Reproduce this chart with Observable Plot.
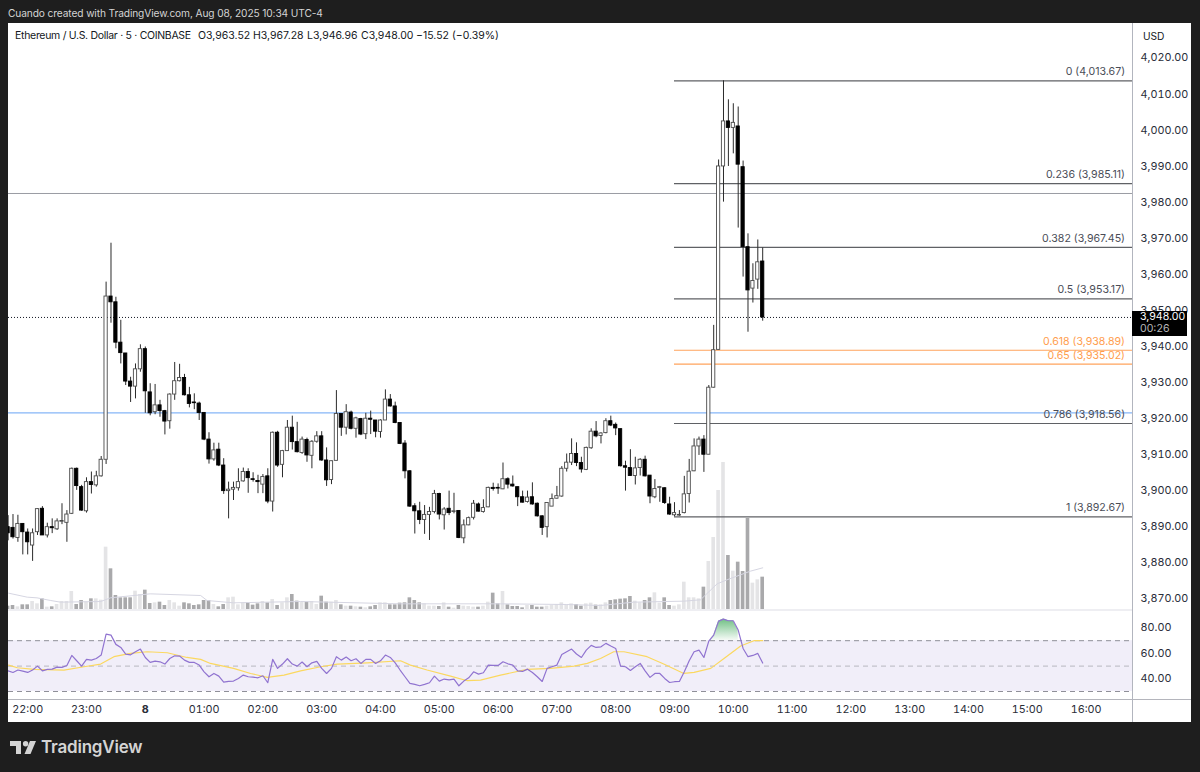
<!DOCTYPE html>
<html>
<head>
<meta charset="utf-8">
<script src="https://cdn.jsdelivr.net/npm/d3@7"></script>
<script src="https://cdn.jsdelivr.net/npm/@observablehq/plot@0.6"></script>
<style>
html,body{margin:0;padding:0;background:#1e1e1e;width:1200px;height:772px;overflow:hidden;font-family:Inter,"Noto Sans",sans-serif}
.abs{position:absolute}
.abs svg{display:block;max-width:none}
#stamp{left:8px;top:6px;font-size:10.2px;letter-spacing:-.12px;line-height:14px;color:#d4d4d4;white-space:nowrap}
#panel{left:8px;top:23px;width:1183px;height:699px;background:#fff}
#legend{left:15px;top:29px;font-size:10.5px;line-height:13px;color:#131722;white-space:nowrap}
#legend span{position:absolute;top:0}
#usd{left:1143px;top:30px;font-size:10.2px;line-height:13px;color:#131722}
#vsep{left:1132px;top:23px;width:1px;height:699px;background:#b2b5be}
#tag{left:1132px;width:55px;height:25px;background:#000;color:#fff;font-size:10.6px;line-height:11px}
#tag div{position:absolute;left:8px;white-space:nowrap}
#sep1{left:8px;top:609px;width:1124px;height:2px;background:#eeeef2}
#sep2{left:8px;top:698.5px;width:1183px;height:1.2px;background:#b4b5bc}
#brand{left:41px;top:735px;font-size:17px;line-height:24px;font-weight:600;color:#d4d4d4;white-space:nowrap;letter-spacing:-.2px}
#logo{left:10px;top:741px}
</style>
</head>
<body>
<div class="abs" id="panel"></div>
<div class="abs" id="stamp">Cuando created with TradingView.com, Aug 08, 2025 10:34 UTC-4</div>
<div class="abs" id="vol"></div>
<div class="abs" id="price"></div>
<div class="abs" id="rsi"></div>
<div class="abs" id="sep1"></div>
<div class="abs" id="sep2"></div>
<div class="abs" id="vsep"></div>
<div class="abs" id="legend">
  <span style="left:0;letter-spacing:-.3px">Ethereum / U.S. Dollar · 5 · COINBASE</span>
  <span style="left:183px">O3,963.52</span>
  <span style="left:238px">H3,967.28</span>
  <span style="left:292px">L3,946.96</span>
  <span style="left:346px">C3,948.00</span>
  <span style="left:401px">−15.52 (−0.39%)</span>
</div>
<div class="abs" id="usd">USD</div>
<div class="abs" id="tag"><div style="top:0.5px">3,948.00</div><div style="top:12px;color:#b8b8b8">00:26</div></div>
<svg class="abs" id="logo" width="26" height="14" viewBox="0 0 26 14"><path fill="#d4d4d4" d="M0 0H11V13H6V5H0Z"/><circle fill="#d4d4d4" cx="15.6" cy="2.7" r="2.7"/><path fill="#d4d4d4" d="M20 0H26L20.5 13H14.5Z"/></svg>
<div class="abs" id="brand">TradingView</div>

<script>
const firstIndex = -4;
const open = [
3889.8,3889.6,3886.8,3890.7,3888.3,3884.7,3888.4,3894.9,3887.5,3889.8,
3889.2,3891.3,3891,3893.5,3906,3900.9,3894.2,3902.3,3901.4,3903.9,
3908.5,3953.8,3952.2,3941,3938,3930.2,3928.8,3933.6,3939.2,3927.2,
3921.7,3923.6,3922,3919.2,3926.6,3930.3,3931.2,3926.4,3924.4,3924.1,
3921.5,3914.1,3908.6,3911.3,3906.9,3899.8,3900.2,3900.6,3902.5,3905.1,
3903.1,3902.6,3901.6,3903.9,3896.9,3916,3907.1,3910.9,3917.4,3913.4,
3910.4,3914,3909.6,3913.5,3915,3908.3,3902.9,3908.2,3921.2,3917.4,
3921.6,3917.1,3919.8,3915.6,3919.9,3919.4,3916.2,3919.4,3925.2,3923.3,
3918.7,3913,3905.3,3895.6,3894.2,3891.8,3893.2,3894,3899,3893.1,
3894.9,3894,3894.3,3886.7,3890.3,3892.4,3896.1,3894,3895.3,3900.7,
3900.7,3900.3,3903.1,3901.6,3900.9,3898.1,3896.8,3898.1,3896.3,3892.8,
3889.8,3895.5,3897.7,3898.3,3906,3907.7,3910.1,3907.6,3905.7,3911.7,
3916.3,3915.1,3915.9,3919.2,3918.2,3917,3906.7,3906.2,3904,3906.2,
3908.5,3904.1,3898.1,3900.7,3900.6,3896.1,3893.1,3893,3893.7,3899,
3905.3,3912.2,3914.1,3909.9,3928.5,3939,3989.9,4002.4,4000.6,4001,
3989.7,3967.5,3956,3958.5,3963.52];
const high = [
3893,3893.3,3893.1,3890.7,3889.3,3889.3,3894.9,3895.5,3890.9,3892.1,
3892.1,3896.3,3894.4,3906.2,3906.2,3901.4,3903.5,3905.1,3905.3,3909.4,
3957.8,3968.6,3953.6,3947.2,3938,3931.4,3935.1,3940.4,3939.8,3929.6,
3929.4,3925,3922.2,3926.8,3935.5,3935,3932.2,3928.6,3926.8,3924.5,
3921.5,3916,3913.1,3913.1,3908.8,3902.3,3902.3,3906,3906.2,3906,
3904.9,3904.2,3904.4,3906,3916.2,3916.4,3911.1,3919.4,3920.6,3918.9,
3914.8,3914.5,3913.8,3916.3,3916.3,3911.8,3908.1,3927.7,3921.2,3923.8,
3922,3920.3,3920,3921.4,3922,3919.4,3919.6,3927.9,3926.6,3924.5,
3918.7,3913.8,3905.5,3896.3,3896.7,3895.8,3895.3,3900,3899.2,3895.2,
3899.8,3899.2,3894.4,3891.8,3892.6,3897.2,3896.5,3897.4,3900.9,3902,
3901.8,3907.6,3903.5,3904,3900.9,3899.8,3899.8,3902.1,3896.5,3893,
3896.5,3899,3901.1,3906.6,3910.1,3914.3,3913.2,3909.2,3912,3917.1,
3919.1,3916,3919.9,3920.6,3918.7,3917,3908.1,3911.3,3909.2,3908.8,
3909.5,3904.1,3903,3901.1,3900.7,3898.1,3896.6,3894.4,3903.9,3908.6,
3914.3,3914.8,3915.2,3929.1,3945.8,3991.7,4013.67,4008.4,4007.3,4006.4,
3991.4,3971.2,3962.9,3969.5,3967.28];
const low = [
3886,3886.5,3885.6,3882.1,3882.1,3880.3,3887.5,3887.5,3886.8,3888,
3888.9,3890.5,3885.6,3893.3,3900,3894.2,3893.7,3899,3900.9,3903.7,
3907.2,3946.4,3939.3,3935.1,3929.1,3924.4,3925.4,3932.8,3921.4,3920.7,
3921,3920.3,3915.4,3917,3925,3930.1,3926.2,3922.9,3922.4,3919.4,
3913.8,3907.3,3908.1,3906.6,3898.9,3892.1,3897.2,3899.8,3902.3,3899.2,
3902.3,3899.1,3899.1,3896.3,3894,3906.4,3903.5,3910.9,3911.2,3910.4,
3910,3907.8,3906,3913.1,3908.1,3901.1,3901.6,3908.2,3915,3915.4,
3916.8,3914.5,3915.2,3914.1,3915.5,3914.6,3914.5,3919.4,3923.1,3918.5,
3912.7,3903.2,3895.3,3887.9,3890.5,3887.8,3886.1,3893.5,3891.8,3889,
3893,3893.5,3886.6,3885.2,3890.2,3891.8,3894,3893.7,3895.2,3899.8,
3898.9,3900.2,3900.4,3900.9,3895.5,3896.5,3896.5,3895.9,3892.6,3887.5,
3886.8,3895.5,3897.6,3898.1,3905.1,3906.9,3906.6,3904.8,3905.5,3911.4,
3914.6,3912.9,3915.7,3917.7,3915.2,3906.5,3899.8,3903.9,3901.5,3904,
3903.7,3896.3,3897.7,3896.7,3896.1,3893.1,3892.67,3892.8,3893.5,3896.5,
3905.2,3909.7,3905,3909.9,3928.4,3939,3980,3989.9,3993.4,3972.8,
3959.2,3943.9,3952,3955.8,3946.96];
const close = [
3888.1,3887,3890.7,3888.4,3885.6,3888.1,3894.8,3887.5,3889.8,3889.5,
3891.4,3891.5,3893.3,3906,3901.2,3894.4,3902.3,3901.5,3903.9,3908.5,
3953.8,3952.2,3941,3938.1,3930.2,3928.8,3933.6,3939.2,3927.5,3921.4,
3923.6,3922,3919.1,3926.6,3930.3,3931.2,3926.4,3924,3924.2,3921.5,
3914.1,3908.6,3911.1,3906.9,3899.8,3900.2,3900.7,3902.3,3905.1,3903.4,
3902.9,3902.3,3903.7,3896.9,3916,3906.9,3910.9,3917.4,3913.4,3910.6,
3914.1,3909.7,3913.5,3915,3908.3,3902.8,3908.1,3921.2,3917.4,3921.7,
3917.1,3920,3915.5,3919.9,3919.6,3916.3,3919.4,3925.2,3923.3,3918.7,
3912.9,3905.3,3895.5,3894.2,3891.8,3893.2,3894,3899,3893.3,3894.7,
3893.7,3894.2,3886.8,3890.3,3892.3,3896.3,3894.1,3895.1,3900.7,3900.4,
3900.5,3903.1,3901.6,3901.1,3898.1,3896.6,3898,3896.1,3892.8,3889.6,
3896.5,3897.6,3898.4,3906,3907.7,3910.1,3907.6,3905.8,3911.8,3916.3,
3915,3915.8,3919.2,3918,3917.2,3906.7,3906.3,3904,3906.1,3908.5,
3903.9,3898.3,3900.4,3900.9,3896.5,3893.3,3893.7,3893.2,3898.9,3905.2,
3912.2,3914.1,3909.9,3928.5,3938.9,3989.9,4002.4,4000.6,4002,3990.4,
3967.5,3955.5,3958.1,3963.3,3948];
const volume = [
10,12,8,14,14,24,17,32,7,8,
15,24,24,54,15,27,22,32,32,28,
187,122,42,35,35,35,55,45,58,18,
20,22,12,27,20,10,20,17,12,14,
27,27,15,8,15,35,37,14,20,20,
13,17,24,20,30,12,20,35,45,25,
22,22,24,15,40,22,22,27,14,10,
10,8,7,5,8,12,20,20,14,14,
19,20,35,27,20,17,10,10,9,20,
7,4,12,10,9,7,7,10,22,49,
17,54,14,9,9,5,12,12,7,7,
10,12,15,20,14,17,15,10,17,19,
13,14,20,27,29,31,32,39,25,20,
27,35,50,19,35,12,10,14,82,35,
35,32,67,144,216,357,441,162,115,142,
114,273,79,89,97];
const volumeMaIndex = [-3.9,-0.1,1.9,4.7,6.7,14.9,16.9,21.7,25,35.3,36.6,42,55.7,76,96.5,110,116.9,123.7,133.9,137.3,140.7,142.7,147.5,150];
const volumeMaValue = [49,37,35,27,22,24,35,42,47,42,27,20,24,17,17,15,12,22,25,29,77,89,115,125];
const rsi = [
46.3,45,46.9,46.1,45,46.9,50,46.3,47.4,47.6,
49.2,49,50.5,58.4,54.2,50,55.3,54.7,56,58.7,
75.2,74.4,67.1,64.7,59.5,58.9,61.3,63.4,56.8,52.9,
53.9,53.4,51.6,56,58.1,57.9,54.7,52.9,52.9,50.8,
45.5,41.6,44.2,42.1,37.4,37.9,38.2,40.3,42.9,41.6,
41.3,40.8,42.4,36.9,55.3,48.2,51.6,55.8,51.6,50,
53.2,49.5,52.6,53.7,48.2,44.2,48.2,57.4,54.7,57.1,
54.2,55.8,52.1,55.3,55.3,52.1,54.2,58.7,56.8,52.6,
46.9,41.6,36.4,35.6,34.5,35.6,36.9,42.1,38.2,39.8,
39.2,39.8,34.5,38.2,40.8,45.5,43.7,44.8,50.8,50.5,
50.5,53.4,51.8,50.8,46.3,45.8,47.6,45,41.6,37.9,
48.2,49.5,50.8,59.2,61.3,63.4,59.5,56.8,62.6,66.3,
64.7,65.2,67.9,65.8,63.9,50,49.5,46.6,49.5,52.1,
46.3,41.1,44.2,44.2,40.3,37.1,37.7,37.9,45.5,54.2,
61.3,62.6,56.8,69.7,74.4,85.4,87,85.7,85.7,78.4,
63.9,57.4,58.4,60,52.4];
const rsiMaIndex = [-3.9,-2.1,1.3,7.4,11.5,14.9,17.6,21,24.4,28.5,32.5,35.3,37.3,42,45.5,48.9,52.3,55.7,59.8,63.2,69.3,76.1,78.1,81.5,86.3,89.7,92.4,96.5,101.9,106.7,111.5,114.2,116.9,119.6,121.7,126.4,129.8,133.9,136,139.4,142.1,145.5,148.2,150];
const rsiMaValue = [50.8,48.7,47.4,46.9,49.5,51.6,57.4,60,61.3,60.5,56.8,55.3,52.1,48.2,44.2,41.1,42.9,46.3,49.5,51.6,52.6,54.2,50.8,46.9,42.1,38.5,39,42.9,47.4,48.2,50,52.1,56,61.3,61.3,57.4,51.6,44.2,45,48.2,56,65.8,70,70];
const fibLevels = ["0","0.236","0.382","0.5","0.618","0.65","0.786","1"];
const fibPrices = [4013.67,3985.11,3967.45,3953.17,3938.89,3935.02,3918.56,3892.67];
const fibStartIndex = 132;
const orangeLevels = ["0.618","0.65"];
const greyLinePrice = 3982.4;
const blueLinePrice = 3921.5;
const lastPrice = 3948;
const priceTicks = d3.range(3870, 4021, 10);
const rsiTicks = [40,60,80];
const rsiBandLevels = [70,50,30];
const hourIndex = [0,12,24,36,48,60,72,84,96,108,120,132,144,156,168,180,192,204,216];
const hourLabels = ["22:00","23:00","8","01:00","02:00","03:00","04:00","05:00","06:00","07:00","08:00","09:00","10:00","11:00","12:00","13:00","14:00","15:00","16:00"];

const candles = open.map((o,k)=>({i:firstIndex+k,o,h:high[k],l:low[k],c:close[k],v:volume[k],r:rsi[k],up:close[k]>=o}));
const volMa = volumeMaIndex.map((i,k)=>({i,v:volumeMaValue[k]}));
const rsiMa = rsiMaIndex.map((i,k)=>({i,v:rsiMaValue[k]}));
const fibs = fibLevels.map((lvl,k)=>({lvl,p:fibPrices[k],label:`${lvl} (${d3.format(",.2f")(fibPrices[k])})`,orange:orangeLevels.includes(lvl)}));

const W = 1183, plotRight = 59, iLeft = -3.918, iRight = 225.47;
const xScale = {domain:[iLeft,iRight],range:[0,W-plotRight]};
const font = "Inter, 'Noto Sans', sans-serif";
const ink = "#2a2e39";
const base = {width:W,marginLeft:0,marginRight:plotRight,marginTop:0,marginBottom:0,x:{...xScale,axis:null},
  style:{background:"transparent",fontFamily:font,fontSize:"11px",overflow:"visible"}};
const halfBody = 0.33, halfBar = 0.37;

/* volume overlay */
const volPlot = Plot.plot({...base,height:150,
  y:{domain:[0,450],range:[150,0],axis:null},
  marks:[
    Plot.rectY(candles,{x1:d=>d.i-halfBar,x2:d=>d.i+halfBar,y1:0,y2:"v",fill:d=>d.up?"#e4e4e6":"#a9a9ab",clip:"frame"}),
    Plot.line(volMa,{x:"i",y:"v",stroke:"#d6d6e2",strokeWidth:1,clip:"frame"})
  ]});
document.getElementById("vol").append(volPlot);
document.getElementById("vol").style.cssText="left:8px;top:459px";

/* price pane */
const pricePlot = Plot.plot({...base,height:586,
  y:{domain:[3870,4020],range:[575,34.5],axis:null},
  marks:[
    Plot.ruleY([greyLinePrice],{stroke:"#9a9ca3",strokeWidth:1}),
    Plot.ruleY([blueLinePrice],{stroke:"#86b6f7",strokeWidth:1.3}),
    Plot.ruleY([lastPrice],{stroke:"#131722",strokeWidth:1,strokeDasharray:"1,2"}),
    Plot.ruleY(fibs,{y:"p",x1:fibStartIndex,x2:iRight,stroke:d=>d.orange?"#ffa35c":"#5f6165",strokeWidth:1.2}),
    Plot.ruleX(candles,{x:"i",y1:"l",y2:"h",stroke:"#2b2b2b",strokeWidth:1,clip:"frame"}),
    Plot.rect(candles,{x1:d=>d.i-halfBody,x2:d=>d.i+halfBody,y1:"o",y2:"c",fill:d=>d.up?"#fff":"#000",stroke:d=>d.up?"#4a4a4a":"#000",strokeWidth:0.9,clip:"frame"}),
    Plot.text(fibs,{x:iRight,y:"p",text:"label",textAnchor:"end",dx:-7.5,dy:-9,fontSize:10.6,fill:d=>d.orange?"#ff9d4d":"#4a4d57"}),
    Plot.axisY({anchor:"right",ticks:priceTicks,tickFormat:d3.format(",.2f"),tickSize:0,tickPadding:8,textAnchor:"start",fontSize:10.8,fill:ink,label:null})
  ]});
const priceHost = document.getElementById("price");
priceHost.append(pricePlot);
priceHost.style.cssText="left:8px;top:23px";
document.getElementById("tag").style.top=(23+pricePlot.scale("y").apply(lastPrice)-6.3)+"px";

/* RSI pane */
const rsiPlot = (()=>{
  const id="rsiOverbought";
  const overCurve = candles.filter(d=>d.r>=69.7 && d.i>=139);
  return Plot.plot({...base,height:112,marginBottom:23,
    y:{domain:[30,90],range:[81,4.8],axis:null},
    marks:[
      ()=>{const ns="http://www.w3.org/2000/svg";
        const defs=document.createElementNS(ns,"defs");
        defs.innerHTML=`<linearGradient id="${id}" x1="0" y1="0" x2="0" y2="1"><stop offset="0" stop-color="#6fbf83"/><stop offset="1" stop-color="#6fbf83" stop-opacity="0.04"/></linearGradient>`;
        return defs;},
      Plot.rect([0],{x1:iLeft,x2:iRight,y1:30,y2:70,fill:"#f1eef9"}),
      Plot.ruleY(rsiBandLevels,{stroke:d=>d===50?"#b7b7bf":"#8f8f98",strokeWidth:1,strokeDasharray:"5,4"}),
      Plot.areaY(overCurve,{x:"i",y1:70,y2:"r",fill:`url(#${id})`}),
      Plot.line(rsiMa,{x:"i",y:"v",stroke:"#fbd860",strokeWidth:1.2,clip:"frame"}),
      Plot.line(candles,{x:"i",y:"r",stroke:"#9073d0",strokeWidth:1.2,clip:"frame"}),
      Plot.axisY({anchor:"right",ticks:rsiTicks,tickFormat:d3.format(".2f"),tickSize:0,tickPadding:8,textAnchor:"start",fontSize:10.8,fill:ink,label:null}),
      Plot.axisX({ticks:hourIndex.filter(i=>hourLabels[hourIndex.indexOf(i)]!=="8"),tickFormat:i=>hourLabels[hourIndex.indexOf(i)],tickSize:0,tickPadding:6,fontSize:10.8,fill:ink,label:null}),
      Plot.axisX({ticks:hourIndex.filter(i=>hourLabels[hourIndex.indexOf(i)]==="8"),tickFormat:i=>hourLabels[hourIndex.indexOf(i)],tickSize:0,tickPadding:6,fontSize:10.8,fontWeight:"bold",fill:ink,label:null})
    ]});
})();
const rsiHost=document.getElementById("rsi");
rsiHost.append(rsiPlot);
rsiHost.style.cssText="left:8px;top:610px";
</script>
</body>
</html>
